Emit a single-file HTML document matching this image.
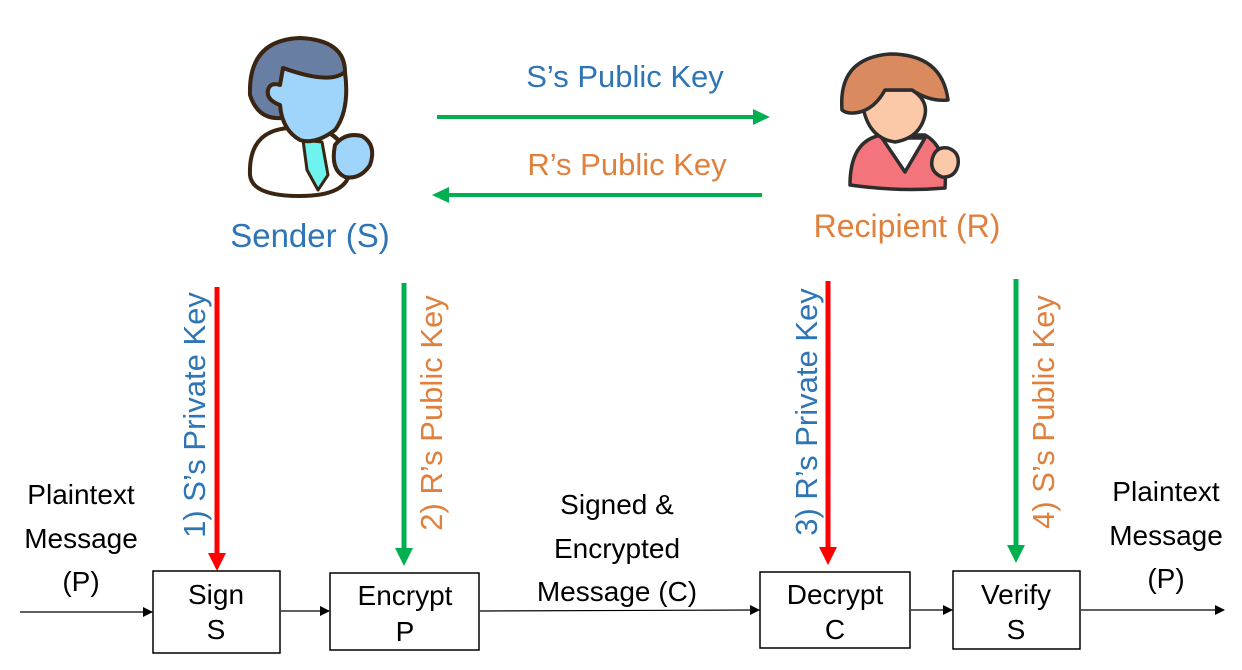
<!DOCTYPE html>
<html><head><meta charset="utf-8"><style>
html,body{margin:0;padding:0;background:#fff;}
svg{display:block;}
text{font-family:"Liberation Sans",sans-serif;}
</style></head><body>
<svg width="1242" height="670" viewBox="0 0 1242 670" xmlns="http://www.w3.org/2000/svg">
<defs>
<marker id="ab" markerWidth="10" markerHeight="10" refX="9" refY="5" orient="auto" markerUnits="userSpaceOnUse"><path d="M0,0 L10,5 L0,10 z" fill="#000"/></marker>
</defs>
<!-- Sender figure -->
<g stroke="#3a2412" stroke-width="4" stroke-linejoin="round">
<path d="M250,175 Q248,125 300,128 Q345,125 350,170 Q348,196 300,196 Q252,196 250,175 z" fill="#fff"/>
<path d="M303,140 L322,142 L328,175 L318,190 L307,170 z" fill="#6ef3ee" stroke-width="3"/>
<path d="M250,95 Q248,40 300,38 Q345,40 345,72 Q330,85 283,68 L282,118 Q258,120 250,95 z" fill="#687ea3"/>
<path d="M283,68 Q330,85 345,72 Q350,110 335,130 Q315,145 300,140 Q282,130 280,105 Q266,100 268,90 Q270,82 280,85 z" fill="#9fd5fb"/>
<path d="M335,145 Q345,132 362,136 Q377,145 370,165 Q360,180 345,177 Q330,170 335,145 z" fill="#9fd5fb"/>
</g>
<!-- Recipient figure -->
<g stroke="#2d2d2d" stroke-width="3.5" stroke-linejoin="round">
<path d="M850,185 Q850,140 882,135 L925,135 Q948,148 945,188 Q900,192 850,185 Z" fill="#f4747b"/>
<path d="M882,138 L925,138 L905,172 Z" fill="#fff"/>
<path d="M862,100 Q862,80 885,90 L912,90 Q928,100 925,115 Q920,138 895,142 Q866,138 862,100 z" fill="#fbc9a8"/>
<path d="M842,110 Q838,58 890,54 Q942,54 948,100 Q930,102 912,90 L885,90 Q875,108 860,112 Q848,115 842,110 z" fill="#d98b5f"/>
<path d="M932,160 Q935,146 948,148 Q960,152 958,165 Q955,178 942,177 Q930,172 932,160 z" fill="#fbc9a8"/>
</g>
<!-- top labels -->
<text x="625" y="87" font-size="31" fill="#2e75b6" text-anchor="middle">S’s Public Key</text>
<text x="627" y="175" font-size="31" fill="#e0803d" text-anchor="middle">R’s Public Key</text>
<text x="310" y="247" font-size="33" fill="#2e75b6" text-anchor="middle">Sender (S)</text>
<text x="907" y="237" font-size="32" fill="#e0803d" text-anchor="middle">Recipient (R)</text>
<!-- top arrows -->
<line x1="437" y1="117" x2="755" y2="117" stroke="#00b050" stroke-width="4"/>
<path d="M770,117 L753,109 L753,125 z" fill="#00b050"/>
<line x1="447" y1="195" x2="762" y2="195" stroke="#00b050" stroke-width="4"/>
<path d="M432,195 L449,187 L449,203 z" fill="#00b050"/>
<!-- vertical arrows -->
<line x1="217" y1="287" x2="217" y2="556" stroke="#ff0000" stroke-width="5"/>
<path d="M217,571 L208,553 L226,553 z" fill="#ff0000"/>
<line x1="404" y1="283" x2="404" y2="551" stroke="#00b050" stroke-width="5"/>
<path d="M404,566 L395,548 L413,548 z" fill="#00b050"/>
<line x1="828" y1="281" x2="828" y2="550" stroke="#ff0000" stroke-width="5"/>
<path d="M828,565 L819,547 L837,547 z" fill="#ff0000"/>
<line x1="1016" y1="279" x2="1016" y2="548" stroke="#00b050" stroke-width="5"/>
<path d="M1016,563 L1007,545 L1025,545 z" fill="#00b050"/>
<!-- vertical labels -->
<text transform="translate(205,415) rotate(-90)" font-size="31" fill="#2e75b6" text-anchor="middle">1) S’s Private Key</text>
<text transform="translate(442,413) rotate(-90)" font-size="31" fill="#e0803d" text-anchor="middle">2) R’s Public Key</text>
<text transform="translate(817,412) rotate(-90)" font-size="31" fill="#2e75b6" text-anchor="middle">3) R’s Private Key</text>
<text transform="translate(1054,412) rotate(-90)" font-size="31" fill="#e0803d" text-anchor="middle">4) S’s Public Key</text>
<!-- boxes -->
<g fill="#fff" stroke="#000" stroke-width="1.5">
<rect x="153" y="571" width="127" height="82"/>
<rect x="330" y="573" width="149" height="77"/>
<rect x="760" y="572" width="150" height="76"/>
<rect x="953" y="571" width="127" height="78"/>
</g>
<g font-size="28" fill="#000" text-anchor="middle">
<text x="216" y="604">Sign</text><text x="216" y="639">S</text>
<text x="405" y="605">Encrypt</text><text x="405" y="641">P</text>
<text x="835" y="604">Decrypt</text><text x="835" y="639">C</text>
<text x="1016" y="604">Verify</text><text x="1016" y="639">S</text>
<text x="81" y="504">Plaintext</text><text x="81" y="548">Message</text><text x="81" y="591">(P)</text>
<text x="617" y="514">Signed &amp;</text><text x="617" y="558">Encrypted</text><text x="617" y="601">Message (C)</text>
<text x="1166" y="501">Plaintext</text><text x="1166" y="545">Message</text><text x="1166" y="588">(P)</text>
</g>
<!-- horizontal connectors -->
<g stroke="#000" stroke-width="1.2" marker-end="url(#ab)">
<line x1="20" y1="612" x2="152" y2="612"/>
<line x1="281" y1="611" x2="329" y2="611"/>
<line x1="480" y1="611" x2="759" y2="610"/>
<line x1="911" y1="610" x2="952" y2="610"/>
<line x1="1081" y1="610" x2="1224" y2="610"/>
</g>
</svg>
</body></html>
